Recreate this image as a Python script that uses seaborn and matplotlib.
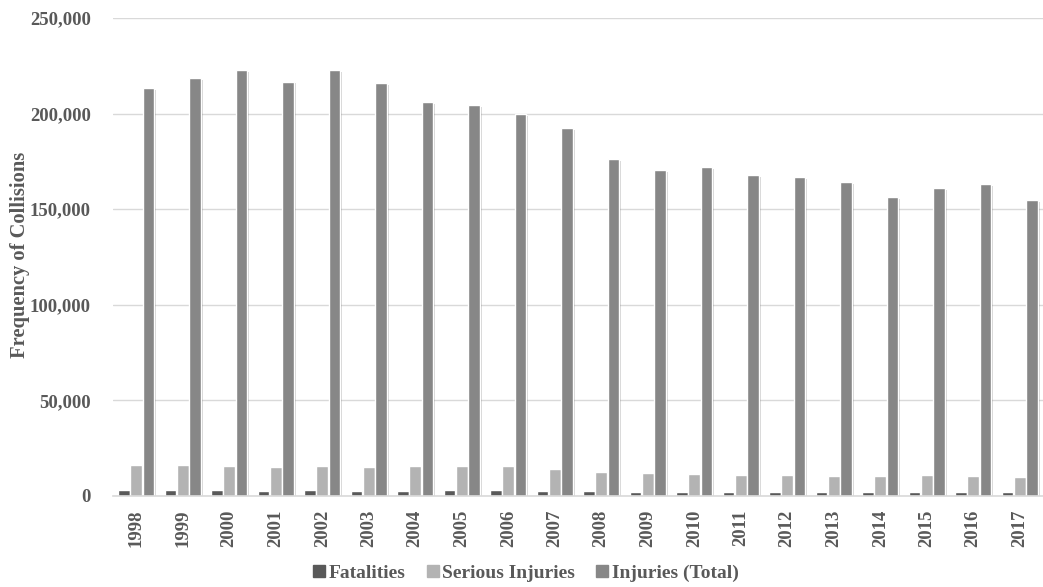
import numpy as np
import pandas as pd
import seaborn as sns
import matplotlib
matplotlib.use("Agg")
import matplotlib.pyplot as plt
from matplotlib import patheffects as pe
from matplotlib.ticker import FuncFormatter
from matplotlib.lines import Line2D

years = [str(y) for y in range(1998, 2018)]
fatalities = [2934, 2980, 2927, 2778, 2936, 2778, 2735, 2923, 2889, 2761,
              2431, 2217, 2238, 2023, 2075, 1951, 1841, 1889, 1898, 1841]
serious_injuries = [16200, 16300, 15700, 15100, 15800, 15100, 15600, 15800, 15700, 14200,
                    12700, 12000, 11500, 11000, 11000, 10500, 10500, 11000, 10600, 9900]
injuries_total = [213400, 218600, 222800, 216700, 222800, 216000, 206100, 204500, 199800, 192500,
                  176300, 170500, 172100, 167900, 166800, 164200, 156400, 161100, 163200, 154800]
series_names = ["Fatalities", "Serious Injuries", "Injuries (Total)"]
colors = ["#595959", "#b3b3b3", "#878787"]

df = pd.DataFrame({
    "Year": years * 3,
    "Series": np.repeat(series_names, len(years)),
    "Value": fatalities + serious_injuries + injuries_total,
})

sns.set_theme(style="white")
plt.rcParams["font.family"] = ["Liberation Serif", "DejaVu Serif"]
plt.rcParams["font.weight"] = "bold"
text_color = "#595959"

fig = plt.figure(figsize=(10.43, 5.87), dpi=100)
ax = fig.add_axes([113 / 1043, 1 - 496 / 587, (1043 - 113) / 1043, (496 - 18) / 587])

sns.barplot(data=df, x="Year", y="Value", hue="Series", palette=colors,
            width=0.8, gap=0.06, ax=ax, legend=False, zorder=3)

shadow = [pe.SimplePatchShadow(offset=(1.2, -1.2), shadow_rgbFace="#000000", alpha=0.18), pe.Normal()]
for p in ax.patches:
    p.set_path_effects(shadow)

ax.set_xlim(-0.5, 19.5)
ax.set_ylim(0, 250000)
ax.set_yticks(np.arange(0, 250001, 50000))
ax.yaxis.set_major_formatter(FuncFormatter(lambda v, _: f"{int(v):,}"))
ax.grid(axis="y", color="#d9d9d9", linewidth=1, zorder=0)
ax.set_axisbelow(True)
for side in ["top", "right", "left"]:
    ax.spines[side].set_visible(False)
ax.spines["bottom"].set_color("#d9d9d9")
ax.spines["bottom"].set_linewidth(1.2)
ax.spines["bottom"].set_zorder(4)

ax.tick_params(axis="both", length=0, labelsize=13.5, labelcolor=text_color)
ax.tick_params(axis="y", pad=16)
ax.tick_params(axis="x", pad=10)
for lbl in ax.get_xticklabels():
    lbl.set_rotation(90)
    lbl.set_fontweight("bold")
for lbl in ax.get_yticklabels():
    lbl.set_fontweight("bold")

ax.set_xlabel("")
ax.set_ylabel("Frequency of Collisions", fontsize=14.8, fontweight="bold", color=text_color)
ax.yaxis.set_label_coords(-0.0895, 0.504)

handles = [Line2D([], [], marker="s", linestyle="", markersize=8.5,
                  markerfacecolor=c, markeredgecolor=c) for c in colors]
fig.legend(handles, series_names, loc="center", bbox_to_anchor=(524 / 1043, 1 - 573 / 587),
           ncol=3, frameon=False, handlelength=1.0, handletextpad=0.0, columnspacing=0.9,
           labelcolor=text_color, prop={"weight": "bold", "size": 14})

fig.savefig("out.png", dpi=100)
